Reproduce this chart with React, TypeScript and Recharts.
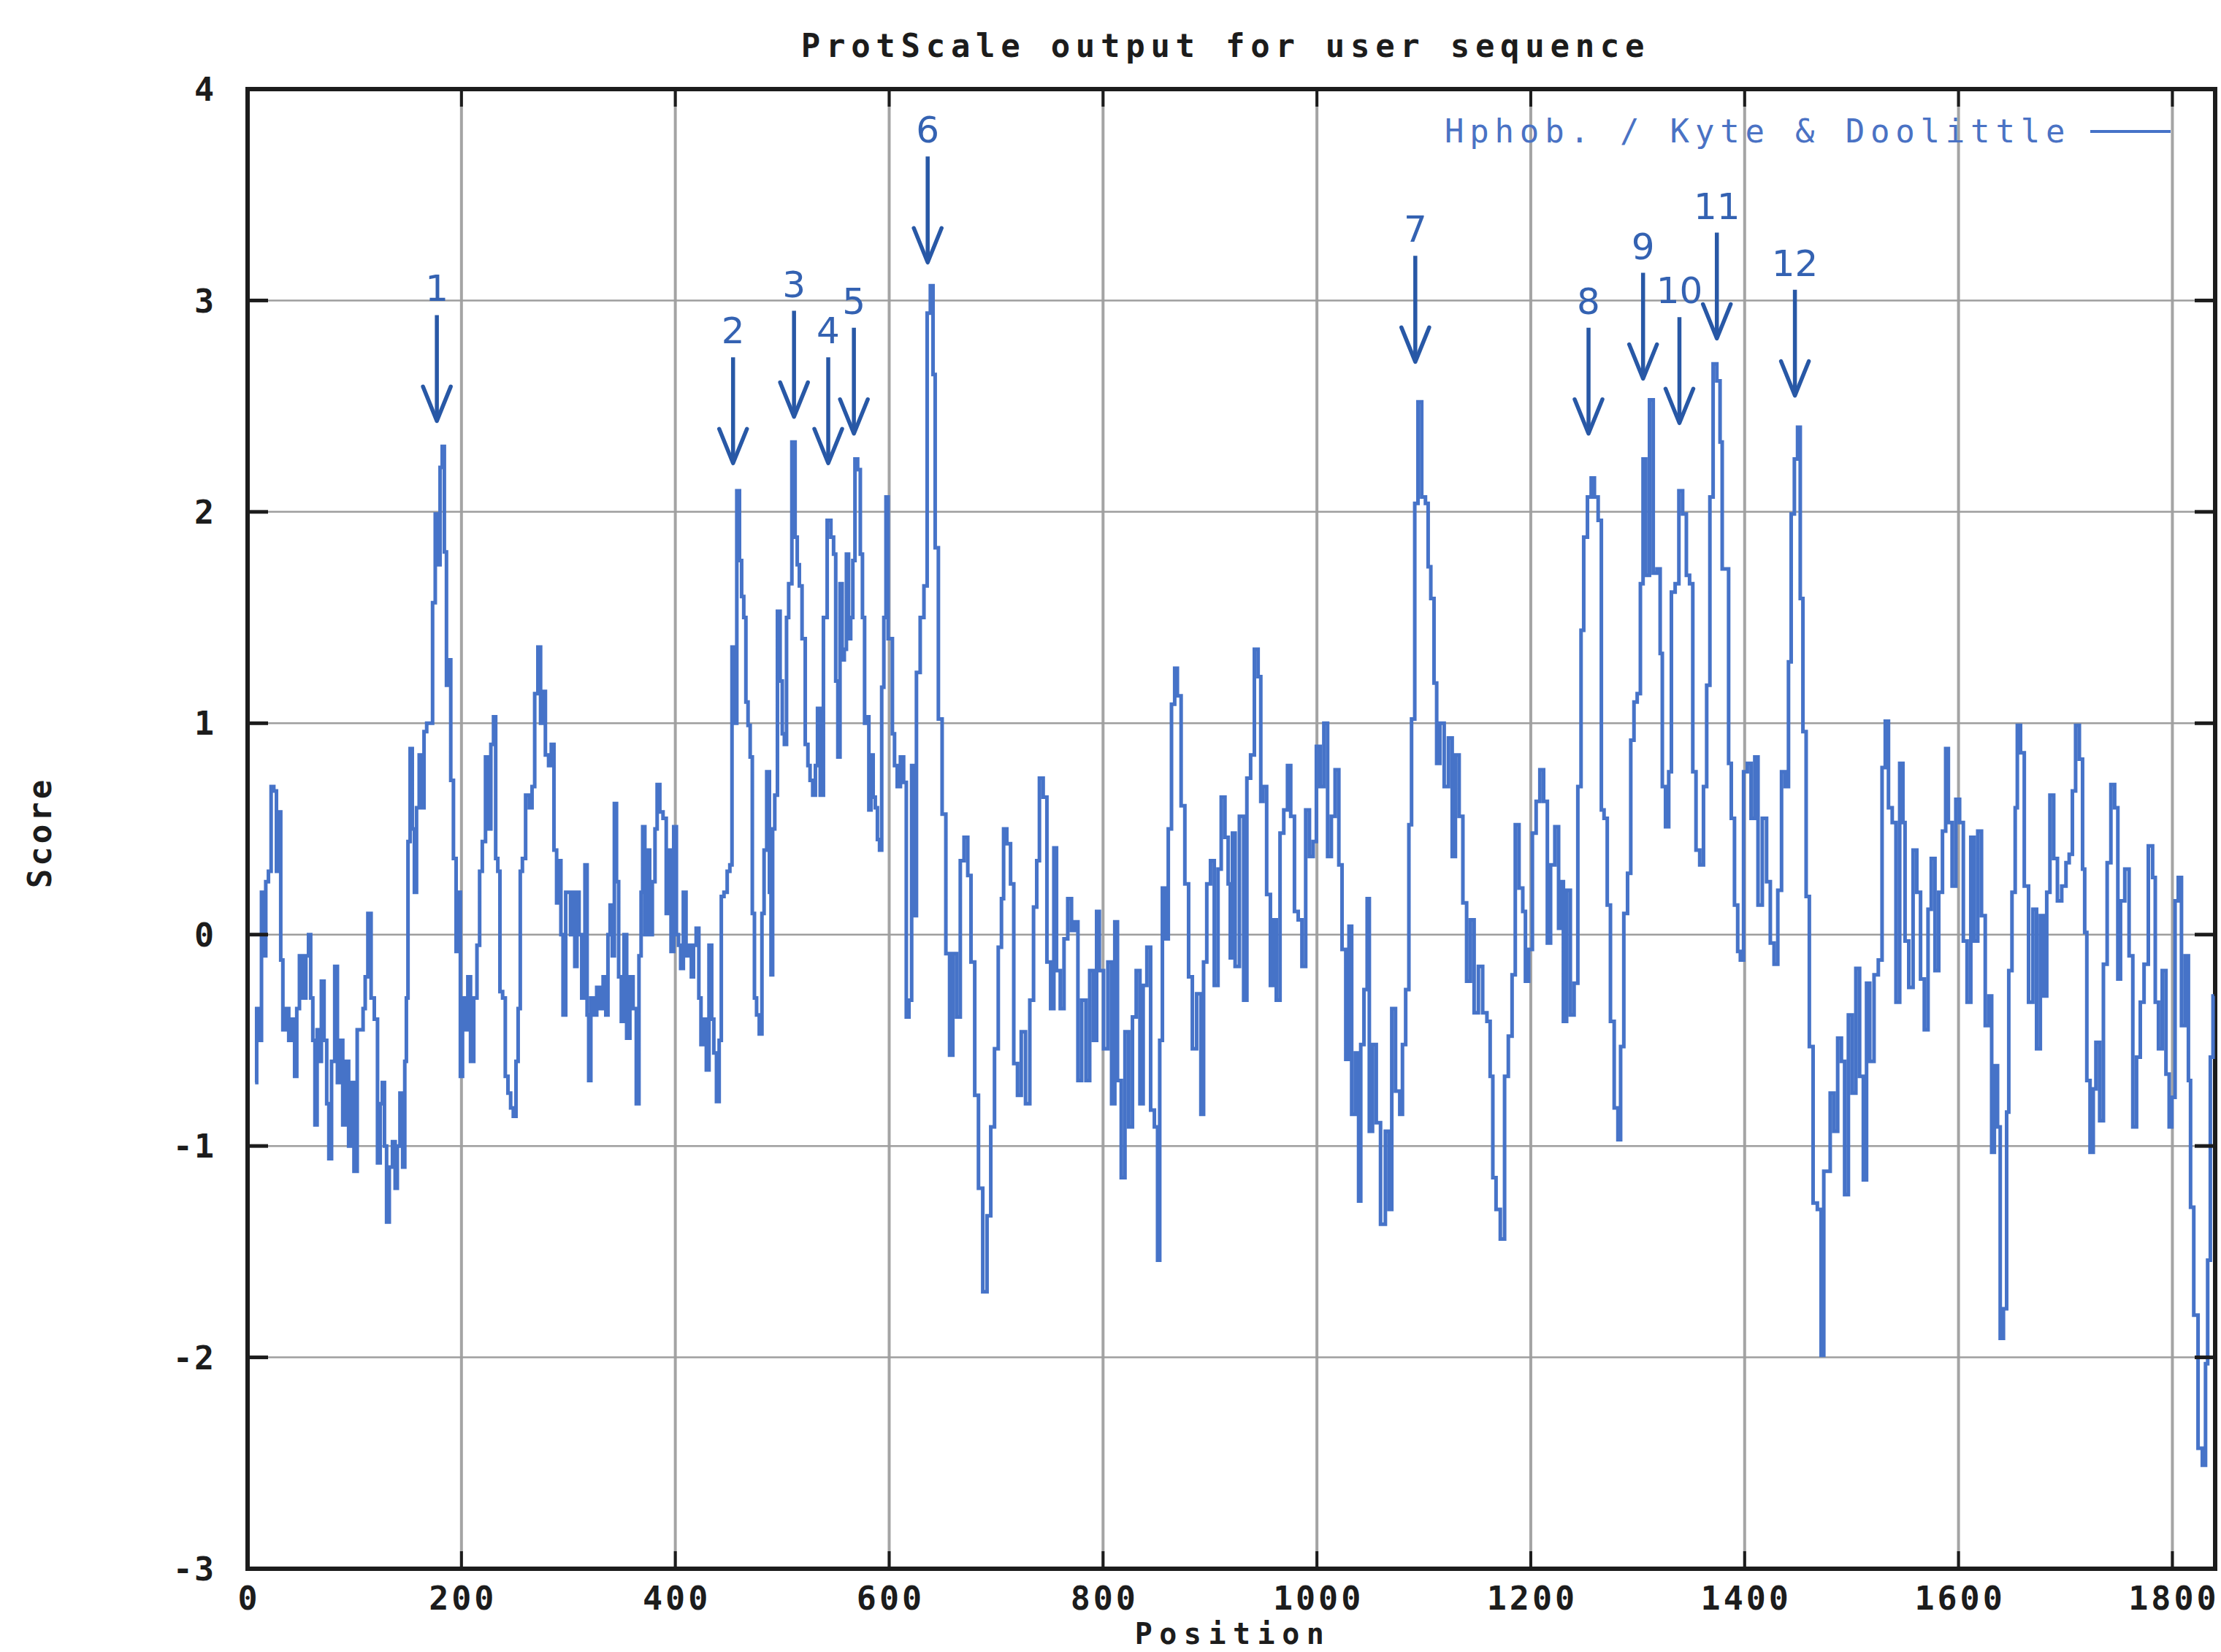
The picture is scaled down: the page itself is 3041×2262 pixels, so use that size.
import React from 'react';
import {
  LineChart,
  Line,
  XAxis,
  YAxis,
  CartesianGrid,
  ReferenceArea,
  ReferenceDot,
  Legend,
} from 'recharts';

// ---------------- data ----------------
const chartTitle = 'ProtScale output for user sequence';
const seriesName = 'Hphob. / Kyte & Doolittle';
const xTicks = [0, 200, 400, 600, 800, 1000, 1200, 1400, 1600, 1800];
const yTicks = [-3, -2, -1, 0, 1, 2, 3, 4];

const positions = [
  7, 10, 12, 14, 16, 18, 21, 23, 26, 28,
  30, 32, 34, 37, 40, 43, 45, 47, 50, 53,
  56, 58, 60, 62, 64, 66, 68, 70, 73, 75,
  77, 80, 83, 85, 88, 90, 93, 96, 98, 101,
  104, 107, 109, 111, 114, 117, 120, 123, 125, 127,
  129, 131, 134, 137, 139, 141, 144, 146, 148, 149,
  151, 153, 155, 157, 159, 162, 164, 166, 169, 172,
  174, 177, 179, 181, 183, 185, 187, 189, 191, 194,
  196, 198, 200, 202, 205, 207, 210, 213, 216, 218,
  221, 224, 226, 229, 231, 233, 235, 237, 240, 242,
  245, 247, 250, 252, 254, 256, 258, 262, 265, 267,
  270, 273, 275, 277, 280, 283, 285, 288, 290, 292,
  294, 296, 299, 301, 303, 305, 307, 309, 311, 314,
  317, 318, 320, 322, 325, 328, 331, 334, 336, 338,
  340, 342, 344, 346, 348, 351, 353, 356, 359, 362,
  365, 367, 369, 370, 373, 375, 377, 380, 382, 384,
  387, 390, 393, 395, 397, 400, 402, 404, 406, 409,
  411, 414, 416, 418, 421, 423, 425, 428, 430, 433,
  435, 437, 440, 442, 444, 447, 450, 452, 454, 456,
  459, 461, 463, 465, 467, 469, 471, 473, 475, 477,
  480, 482, 484, 487, 489, 490, 492, 494, 497, 499,
  501, 503, 505, 507, 511, 513, 515, 517, 520, 523,
  525, 527, 530, 532, 534, 537, 540, 544, 547, 549,
  551, 553, 555, 557, 559, 561, 563, 565, 567, 569,
  572, 574, 576, 578, 580, 582, 584, 586, 588, 590,
  592, 594, 596, 598, 600, 602, 604, 606, 609, 612,
  615, 617, 620, 622, 624, 627, 631, 634, 637, 640,
  642, 644, 648, 651, 655, 658, 661, 665, 668, 672,
  675, 678, 682, 685, 690, 693, 697, 700, 704, 706,
  708, 712, 715, 718, 722, 725, 730, 733, 737, 739,
  742, 746, 749, 753, 755, 758, 762, 765, 769, 772,
  775, 778, 782, 786, 789, 793, 795, 798, 803, 806,
  810, 812, 815, 819, 822, 826, 829, 833, 836, 839,
  843, 846, 850, 852, 854, 857, 860, 862, 866, 868,
  871, 875, 878, 882, 885, 890, 893, 895, 899, 902,
  906, 909, 912, 916, 918, 920, 922, 925, 930, 933,
  936, 940, 943, 947, 948, 951, 955, 958, 960, 964,
  967, 971, 974, 977, 981, 984, 988, 991, 995, 998,
  1001, 1005, 1008, 1012, 1015, 1019, 1022, 1025, 1029, 1031,
  1034, 1038, 1040, 1042, 1046, 1048, 1050, 1054, 1057, 1062,
  1066, 1069, 1071, 1076, 1079, 1081, 1085, 1087, 1090, 1093,
  1096, 1100, 1103, 1105, 1108, 1111, 1113, 1117, 1121, 1125,
  1128, 1131, 1135, 1138, 1142, 1145, 1149, 1153, 1157, 1161,
  1163, 1166, 1169, 1174, 1177, 1181, 1184, 1187, 1191, 1194,
  1196, 1200, 1203, 1207, 1210, 1214, 1217, 1220, 1225, 1227,
  1229, 1232, 1235, 1239, 1242, 1246, 1248, 1251, 1255, 1258,
  1261, 1265, 1267, 1270, 1273, 1276, 1280, 1283, 1285, 1289,
  1292, 1295, 1298, 1301, 1304, 1306, 1309, 1313, 1316, 1320,
  1322, 1324, 1328, 1330, 1333, 1337, 1340, 1344, 1347, 1350,
  1353, 1356, 1360, 1363, 1366, 1369, 1372, 1376, 1378, 1380,
  1384, 1386, 1389, 1392, 1395, 1397, 1401, 1404, 1408, 1411,
  1414, 1419, 1422, 1426, 1429, 1433, 1436, 1440, 1442, 1445,
  1448, 1451, 1453, 1456, 1459, 1462, 1466, 1470, 1473, 1475,
  1478, 1482, 1485, 1489, 1492, 1495, 1499, 1502, 1506, 1509,
  1513, 1515, 1519, 1523, 1527, 1530, 1533, 1536, 1540, 1543,
  1547, 1549, 1551, 1556, 1559, 1563, 1566, 1570, 1573, 1576,
  1580, 1583, 1587, 1589, 1592, 1596, 1599, 1603, 1606, 1610,
  1613, 1616, 1620, 1623, 1627, 1630, 1632, 1635, 1638, 1640,
  1644, 1646, 1648, 1652, 1654, 1656, 1660, 1663, 1668, 1671,
  1675, 1678, 1681, 1684, 1687, 1691, 1694, 1699, 1702, 1705,
  1708, 1711, 1715, 1717, 1719, 1721, 1725, 1727, 1730, 1734,
  1737, 1741, 1744, 1748, 1750, 1753, 1758, 1761, 1765, 1768,
  1772, 1775, 1780, 1783, 1785, 1789, 1792, 1796, 1798, 1801,
  1804, 1807, 1810, 1814, 1816, 1818, 1822, 1826, 1830, 1832,
  1834, 1837, 1839,
];

const scores = [
  -0.7, -0.35, -0.5, 0.2, -0.1, 0.25, 0.3, 0.7, 0.68, 0.3,
  0.58, -0.12, -0.45, -0.35, -0.5, -0.4, -0.67, -0.35, -0.1, -0.3,
  -0.1, 0, -0.3, -0.5, -0.9, -0.45, -0.6, -0.22, -0.5, -0.8,
  -1.06, -0.6, -0.15, -0.7, -0.5, -0.9, -0.6, -1.0, -0.7, -1.12,
  -0.45, -0.45, -0.35, -0.2, 0.1, -0.3, -0.4, -1.08, -0.8, -0.7,
  -1.0, -1.36, -1.1, -0.98, -1.2, -1.0, -0.75, -1.1, -0.6, -0.3,
  0.44, 0.88, 0.5, 0.2, 0.6, 0.85, 0.6, 0.96, 1.0, 1.0,
  1.57, 1.99, 1.75, 2.21, 2.31, 1.81, 1.18, 1.3, 0.73, 0.36,
  -0.08, 0.2, -0.67, -0.3, -0.45, -0.2, -0.6, -0.3, -0.05, 0.3,
  0.44, 0.84, 0.5, 0.9, 1.03, 0.36, 0.3, -0.27, -0.3, -0.67,
  -0.75, -0.82, -0.86, -0.6, -0.35, 0.3, 0.36, 0.66, 0.6, 0.7,
  1.14, 1.36, 1.0, 1.15, 0.85, 0.8, 0.9, 0.4, 0.15, 0.35,
  0, -0.38, 0.2, 0.2, 0, 0.2, -0.15, 0.2, 0, -0.3,
  0.33, -0.38, -0.69, -0.3, -0.38, -0.25, -0.35, -0.2, -0.38, 0,
  0.14, -0.1, 0.62, 0.25, -0.2, -0.41, 0, -0.49, -0.2, -0.35,
  -0.8, -0.1, 0.2, 0.51, 0, 0.4, 0, 0.25, 0.5, 0.71,
  0.58, 0.55, 0.1, 0.4, -0.08, 0.51, 0, -0.05, -0.16, 0.2,
  -0.1, -0.05, -0.2, -0.05, 0.03, -0.3, -0.52, -0.4, -0.64, -0.05,
  -0.4, -0.56, -0.79, -0.5, 0.18, 0.2, 0.3, 0.33, 1.36, 1.0,
  2.1, 1.77, 1.6, 1.5, 1.1, 0.99, 0.84, 0.1, -0.3, -0.38,
  -0.47, 0.1, 0.4, 0.77, 0.2, -0.19, 0.5, 0.66, 1.53, 1.2,
  0.95, 0.9, 1.5, 1.66, 2.33, 1.88, 1.75, 1.65, 1.4, 0.9,
  0.8, 0.73, 0.66, 0.8, 1.07, 0.66, 1.5, 1.96, 1.88, 1.8,
  1.2, 0.84, 1.66, 1.3, 1.35, 1.8, 1.4, 1.5, 1.77, 2.25,
  2.2, 1.8, 1.5, 1.0, 1.03, 0.59, 0.85, 0.65, 0.6, 0.45,
  0.4, 1.17, 1.5, 2.07, 1.4, 1.4, 0.95, 0.8, 0.7, 0.84,
  0.72, -0.39, -0.31, 0.8, 0.09, 1.24, 1.5, 1.65, 2.94, 3.07,
  2.65, 1.83, 1.02, 0.57, -0.09, -0.57, -0.09, -0.39, 0.35, 0.46,
  0.28, -0.13, -0.76, -1.2, -1.69, -1.33, -0.91, -0.54, -0.06, 0.17,
  0.5, 0.43, 0.24, -0.61, -0.76, -0.46, -0.8, -0.31, 0.13, 0.35,
  0.74, 0.65, -0.13, -0.35, 0.41, -0.17, -0.35, -0.02, 0.17, 0.02,
  0.06, -0.69, -0.31, -0.69, -0.17, -0.5, 0.11, -0.17, -0.54, -0.13,
  -0.8, 0.06, -0.69, -1.15, -0.46, -0.91, -0.39, -0.17, -0.8, -0.24,
  -0.06, -0.83, -0.91, -1.54, -0.5, 0.22, -0.02, 0.5, 1.09, 1.26,
  1.13, 0.61, 0.24, -0.2, -0.54, -0.28, -0.85, -0.13, 0.24, 0.35,
  -0.24, 0.31, 0.65, 0.46, 0.24, -0.11, 0.48, -0.15, 0.56, -0.31,
  0.74, 0.85, 1.35, 1.22, 0.63, 0.7, 0.19, -0.24, 0.07, -0.31,
  0.48, 0.59, 0.8, 0.56, 0.11, 0.07, -0.15, 0.59, 0.37, 0.44,
  0.89, 0.7, 1.0, 0.37, 0.56, 0.78, 0.33, -0.07, -0.59, 0.04,
  -0.85, -0.56, -1.26, -0.52, -0.26, 0.17, -0.93, -0.52, -0.89, -1.37,
  -0.93, -1.3, -0.35, -0.74, -0.85, -0.52, -0.26, 0.52, 1.02, 2.04,
  2.52, 2.07, 2.04, 1.74, 1.59, 1.19, 0.81, 1.0, 0.7, 0.93,
  0.37, 0.85, 0.56, 0.15, -0.22, 0.07, -0.37, -0.15, -0.37, -0.41,
  -0.67, -1.15, -1.3, -1.44, -0.67, -0.48, -0.19, 0.52, 0.22, 0.11,
  -0.22, -0.07, 0.48, 0.63, 0.78, 0.63, -0.04, 0.33, 0.51, 0.03,
  0.25, -0.41, 0.21, -0.38, -0.23, 0.7, 1.44, 1.88, 2.07, 2.16,
  2.07, 1.96, 0.59, 0.55, 0.14, -0.41, -0.82, -0.97, -0.53, 0.1,
  0.29, 0.92, 1.1, 1.14, 1.66, 2.25, 1.7, 2.53, 1.71, 1.73,
  1.33, 0.7, 0.51, 0.77, 1.62, 1.66, 2.1, 1.99, 1.7, 1.66,
  0.77, 0.4, 0.33, 0.7, 1.18, 2.07, 2.7, 2.62, 2.33, 1.73,
  1.73, 0.81, 0.55, 0.14, -0.08, -0.12, 0.77, 0.81, 0.55, 0.84,
  0.14, 0.55, 0.25, -0.04, -0.14, 0.21, 0.77, 0.7, 1.29, 1.99,
  2.25, 2.4, 1.59, 0.96, 0.18, -0.53, -1.27, -1.3, -1.99, -1.12,
  -1.12, -0.75, -0.93, -0.49, -0.6, -1.23, -0.38, -0.75, -0.16, -0.67,
  -1.16, -0.23, -0.6, -0.19, -0.12, 0.79, 1.01, 0.6, 0.53, -0.32,
  0.81, 0.53, -0.03, -0.25, 0.4, 0.2, -0.21, -0.45, 0.12, 0.36,
  -0.17, 0.2, 0.49, 0.88, 0.53, 0.23, 0.64, 0.53, -0.03, -0.32,
  0.46, -0.03, 0.49, 0.09, -0.43, -0.29, -1.03, -0.62, -0.91, -1.91,
  -1.77, -0.84, -0.17, 0.2, 0.6, 0.99, 0.86, 0.23, -0.32, 0.12,
  -0.54, 0.09, -0.29, 0.2, 0.66, 0.36, 0.16, 0.23, 0.34, 0.38,
  0.68, 0.99, 0.83, 0.31, 0.01, -0.69, -1.03, -0.73, -0.51, -0.88,
  -0.14, 0.34, 0.71, 0.6, -0.21, 0.16, 0.31, -0.1, -0.91, -0.58,
  -0.32, -0.14, 0.42, 0.27, -0.32, -0.54, -0.17, -0.66, -0.91, -0.77,
  0.16, 0.27, -0.43, -0.1, -0.69, -1.29, -1.8, -2.43, -2.51, -2.03,
  -1.54, -0.58, -0.29,
];

// annotation arrows (label, position, score at arrow tip)
const arrowLabels = ['1', '2', '3', '4', '5', '6', '7', '8', '9', '10', '11', '12'];
const arrowPositions = [177, 454, 511, 543, 567, 636, 1092, 1254, 1305, 1339, 1374, 1447];
const arrowTips = [2.43, 2.23, 2.45, 2.23, 2.37, 3.18, 2.71, 2.37, 2.63, 2.42, 2.82, 2.55];

const data = positions.map((p, i) => ({ pos: p, score: scores[i] }));

// ---------------- layout / style ----------------
const W = 3041;
const H = 2262;
const PLOT_LEFT = 339;
const PLOT_TOP = 122;
const PLOT_RIGHT = 3033;
const PLOT_BOTTOM = 2148;
const PLOT_W = PLOT_RIGHT - PLOT_LEFT;
const PLOT_H = PLOT_BOTTOM - PLOT_TOP;
const Y_AXIS_W = 100;
const X_AXIS_H = 60;
const X_TICK_MARGIN = 56; // label baseline below the axis
const Y_TICK_MARGIN = 44;
const TICK_LEN = 24;

const MONO = "'DejaVu Sans Mono', 'Liberation Mono', monospace";
const LINE_COLOR = '#4673c8';
const ARROW_COLOR = '#2858a6';
const LABEL_COLOR = '#3462b2';
const INK = '#1c1c1c';

const XTick = (props: any) => {
  const { x, y, payload } = props;
  const axisY = y - X_TICK_MARGIN;
  return (
    <g>
      <line x1={x} x2={x} y1={axisY} y2={axisY - TICK_LEN} stroke={INK} strokeWidth={4} />
      <line x1={x} x2={x} y1={axisY - PLOT_H} y2={axisY - PLOT_H + TICK_LEN} stroke={INK} strokeWidth={4} />
      <text
        x={x + 2}
        y={y}
        textAnchor="middle"
        fontFamily={MONO}
        fontWeight="bold"
        fontSize={45}
        letterSpacing={4}
        fill={INK}
      >
        {payload.value}
      </text>
    </g>
  );
};

const YTick = (props: any) => {
  const { x, y, payload } = props;
  const axisX = x + Y_TICK_MARGIN;
  return (
    <g>
      <line x1={axisX} x2={axisX + TICK_LEN + 4} y1={y} y2={y} stroke={INK} strokeWidth={5} />
      <line x1={axisX + PLOT_W} x2={axisX + PLOT_W - TICK_LEN - 4} y1={y} y2={y} stroke={INK} strokeWidth={5} />
      <text
        x={x}
        y={y}
        dy="0.36em"
        textAnchor="end"
        fontFamily={MONO}
        fontWeight="bold"
        fontSize={45}
        letterSpacing={2}
        fill={INK}
      >
        {payload.value}
      </text>
    </g>
  );
};

const Arrow = ({ cx, cy, label }: { cx: number; cy: number; label: string }) => (
  <g>
    <line x1={cx} x2={cx} y1={cy - 145} y2={cy - 4} stroke={ARROW_COLOR} strokeWidth={5.5} />
    <polyline
      points={`${cx - 19},${cy - 47} ${cx},${cy} ${cx + 19},${cy - 47}`}
      fill="none"
      stroke={ARROW_COLOR}
      strokeWidth={5.5}
      strokeLinejoin="round"
      strokeLinecap="round"
    />
    <text
      x={cx}
      y={cy - 164}
      textAnchor="middle"
      fontFamily="'DejaVu Sans', sans-serif"
      fontSize={50}
      fill={LABEL_COLOR}
    >
      {label}
    </text>
  </g>
);

const LegendContent = (props: any) => {
  const item = props.payload && props.payload[0];
  const name = item ? item.value : seriesName;
  return (
    <div
      style={{
        display: 'flex',
        alignItems: 'center',
        height: 50,
        fontFamily: MONO,
        fontSize: 44,
        lineHeight: '50px',
        letterSpacing: 7.8,
        color: '#4a72c4',
        whiteSpace: 'pre',
      }}
    >
      <span>{name}</span>
      <svg width={110} height={10} style={{ marginLeft: 27 }}>
        <line x1={0} x2={110} y1={5} y2={5} stroke={LINE_COLOR} strokeWidth={4} />
      </svg>
    </div>
  );
};

export default function App() {
  return (
    <>
      <style>{'body{margin:0;background:#fff}'}</style>
      <LineChart
        width={W}
        height={H}
        data={data}
        margin={{
          top: PLOT_TOP,
          right: W - PLOT_RIGHT,
          bottom: H - PLOT_BOTTOM - X_AXIS_H,
          left: PLOT_LEFT - Y_AXIS_W,
        }}
        style={{ background: '#fff' }}
      >
        <text
          x={(PLOT_LEFT + PLOT_RIGHT) / 2 - 8}
          y={62}
          dy="0.36em"
          textAnchor="middle"
          fontFamily={MONO}
          fontWeight="bold"
          fontSize={44}
          letterSpacing={7.7}
          fill={INK}
        >
          {chartTitle}
        </text>
        <CartesianGrid horizontal={false} stroke="#a4a4a4" strokeWidth={4} />
        <CartesianGrid vertical={false} stroke="#9e9e9e" strokeWidth={2.5} />
        <XAxis
          dataKey="pos"
          type="number"
          domain={[0, 1840]}
          ticks={xTicks}
          interval={0}
          allowDataOverflow
          tick={<XTick />}
          tickLine={false}
          axisLine={false}
          tickSize={0}
          tickMargin={X_TICK_MARGIN}
          height={X_AXIS_H}
          label={(p: any) => {
            const vb = p.viewBox || {};
            return (
              <text
                x={vb.x + vb.width / 2 + 2}
                y={vb.y + 103}
                textAnchor="middle"
                fontFamily={MONO}
                fontWeight="bold"
                fontSize={40}
                letterSpacing={9.5}
                fill={INK}
              >
                Position
              </text>
            );
          }}
        />
        <YAxis
          type="number"
          domain={[-3, 4]}
          ticks={yTicks}
          interval={0}
          allowDataOverflow
          tick={<YTick />}
          tickLine={false}
          axisLine={false}
          tickSize={0}
          tickMargin={Y_TICK_MARGIN}
          width={Y_AXIS_W}
          label={(p: any) => {
            const vb = p.viewBox || {};
            const cx = vb.x - 185;
            const cy = vb.y + vb.height / 2 + 5;
            return (
              <text
                x={cx}
                y={cy}
                dy="0.36em"
                textAnchor="middle"
                transform={`rotate(-90 ${cx} ${cy})`}
                fontFamily={MONO}
                fontWeight="bold"
                fontSize={44}
                letterSpacing={4}
                fill={INK}
              >
                Score
              </text>
            );
          }}
        />
        <Legend
          layout="horizontal"
          verticalAlign="middle"
          align="center"
          content={<LegendContent />}
          wrapperStyle={{ position: 'absolute', left: 1978, top: 155, width: 1040, height: 50 }}
        />
        <Line
          type="step"
          dataKey="score"
          name={seriesName}
          stroke={LINE_COLOR}
          strokeWidth={5}
          dot={false}
          activeDot={false}
          isAnimationActive={false}
        />
        <ReferenceArea
          x1={0}
          x2={1840}
          y1={-3}
          y2={4}
          fill="none"
          fillOpacity={0}
          stroke={INK}
          strokeWidth={6}
          ifOverflow="visible"
        />
        {arrowPositions.map((p, i) => (
          <ReferenceDot
            key={`arrow-${i}`}
            x={p}
            y={arrowTips[i]}
            r={0}
            ifOverflow="visible"
            shape={(sp: any) => <Arrow cx={sp.cx} cy={sp.cy} label={arrowLabels[i]} />}
          />
        ))}
      </LineChart>
    </>
  );
}
